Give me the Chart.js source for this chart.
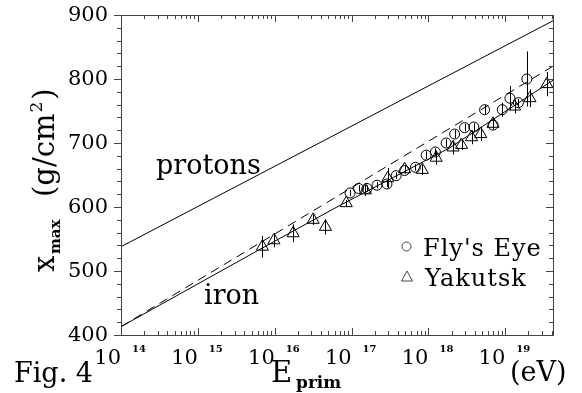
<!DOCTYPE html>
<html>
<head>
<meta charset="utf-8">
<script src="https://cdn.jsdelivr.net/npm/chart.js@4.4.0/dist/chart.umd.min.js"></script>
<style>
html, body { margin: 0; padding: 0; background: #fff; }
</style>
</head>
<body>
<canvas id="xmaxChart" width="582" height="393"></canvas>
<script>
// Fly's Eye (circles): log10(E/eV) and Xmax in g/cm2
var flyLogE = [16.98, 17.09, 17.20, 17.33, 17.46, 17.58, 17.69, 17.83, 17.97, 18.09,
               18.23, 18.34, 18.47, 18.59, 18.73, 18.84, 18.96, 19.06, 19.17, 19.28];
var flyXmax = [622, 629, 629, 634, 636, 649, 657, 662, 681, 686,
               700, 714, 724, 725, 752, 728, 752, 770, 763, 800];
var flyErr  = [5, 5, 5, 5, 5, 5, 5, 5, 6, 6, 6, 6, 6, 6, 8, 6, 11, 19, 6, 43];

// Yakutsk (triangles)
var yakLogE = [15.84, 15.99, 16.24, 16.50, 16.66, 16.93, 17.18, 17.47, 17.69, 17.92,
               18.10, 18.32, 18.43, 18.56, 18.68, 18.84, 19.12, 19.32, 19.54];
var yakXmax = [538, 548, 559, 580, 569, 606, 626, 645, 659, 658,
               677, 693, 697, 709, 714, 730, 757, 770, 792];
var yakErr  = [17, 11, 14, 8, 12, 5, 9, 16, 6, 8, 11, 11, 8, 11, 11, 9, 11, 14, 19];

// model curves
var protonLogE = [14, 19.62];
var protonXmax = [538, 891];
var ironLogE = [14, 15.78, 16.84, 18.27, 19.62];
var ironXmax = [413, 532, 602, 692, 798];
var ironDashLogE = [14, 19.62];
var ironDashXmax = [413, 820];

// axes
var xDecades = [14, 15, 16, 17, 18, 19];
var yLabels = [400, 500, 600, 700, 800, 900];

var SERIF = '"DejaVu Serif", "Liberation Serif", serif';

function toPoints(lx, ly) {
    return lx.map(function (v, i) {
        return { x: Math.pow(10, v), y: ly[i] };
    });
}

var framePlugin = {
    id: 'frame',
    afterDatasetsDraw: function (chart) {
        var ctx = chart.ctx;
        var xs = chart.scales.x, ys = chart.scales.y;
        var a = chart.chartArea;
        ctx.save();
        ctx.strokeStyle = '#000';
        ctx.lineWidth = 1;
        // error bars
        function bars(lx, ly, le) {
            lx.forEach(function (v, i) {
                var px = Math.round(xs.getPixelForValue(Math.pow(10, v))) + 0.5;
                ctx.beginPath();
                ctx.moveTo(px, ys.getPixelForValue(ly[i] - le[i]));
                ctx.lineTo(px, ys.getPixelForValue(ly[i] + le[i]));
                ctx.stroke();
            });
        }
        bars(flyLogE, flyXmax, flyErr);
        bars(yakLogE, yakXmax, yakErr);

        // frame
        ctx.strokeStyle = '#444';
        ctx.strokeRect(Math.round(a.left) + 0.5, Math.round(a.top) + 0.5,
                       Math.round(a.right - a.left), Math.round(a.bottom - a.top));

        // x ticks (bottom pointing up, top pointing down)
        ctx.beginPath();
        xDecades.forEach(function (d) {
            for (var m = 1; m <= 9; m++) {
                var v = m * Math.pow(10, d);
                if (v > xs.max) break;
                var px = Math.round(xs.getPixelForValue(v)) + 0.5;
                var len = m === 1 ? 7 : 4;
                ctx.moveTo(px, a.bottom); ctx.lineTo(px, a.bottom - len);
                ctx.moveTo(px, a.top); ctx.lineTo(px, a.top + len);
            }
        });
        // y ticks
        for (var y = 400; y <= 900; y += 20) {
            var py = Math.round(ys.getPixelForValue(y)) + 0.5;
            var len = y % 100 === 0 ? 7 : 4;
            ctx.moveTo(a.left, py); ctx.lineTo(a.left - len, py);
            ctx.moveTo(a.right, py); ctx.lineTo(a.right - len, py);
        }
        ctx.stroke();

        // tick labels
        ctx.fillStyle = '#000';
        ctx.font = '21px ' + SERIF;
        ctx.textAlign = 'right';
        ctx.textBaseline = 'middle';
        yLabels.forEach(function (v) {
            ctx.fillText(String(v), 108, ys.getPixelForValue(v) + 1);
        });
        ctx.textBaseline = 'alphabetic';
        xDecades.forEach(function (d) {
            var px = xs.getPixelForValue(Math.pow(10, d));
            ctx.font = '21px ' + SERIF;
            ctx.textAlign = 'right';
            ctx.fillText('10', px, 364);
            ctx.font = 'bold 10px ' + SERIF;
            ctx.textAlign = 'left';
            ctx.fillText(String(d), px + 11, 352);
        });

        // axis titles
        ctx.textAlign = 'left';
        ctx.font = '27px ' + SERIF;
        ctx.fillText('Fig. 4', 14, 382);
        ctx.font = '29px ' + SERIF;
        ctx.fillText('E', 271, 382);
        ctx.font = 'bold 17px ' + SERIF;
        ctx.fillText('prim', 296, 388);
        ctx.font = '27px ' + SERIF;
        ctx.fillText('(eV)', 510, 381);

        ctx.save();
        ctx.translate(54, 272);
        ctx.rotate(-Math.PI / 2);
        ctx.font = '29px ' + SERIF;
        ctx.fillText('x', 0, 0);
        ctx.font = 'bold 15px ' + SERIF;
        ctx.fillText('max', 18, 6);
        ctx.font = '29px ' + SERIF;
        ctx.fillText('(g/cm', 75, 0);
        var w = ctx.measureText('(g/cm').width;
        ctx.font = '17px ' + SERIF;
        ctx.fillText('2', 75 + w + 1, -12);
        var w2 = ctx.measureText('2').width;
        ctx.font = '29px ' + SERIF;
        ctx.fillText(')', 75 + w + w2 + 3, 0);
        ctx.restore();

        // curve labels
        ctx.font = '27px ' + SERIF;
        ctx.fillText('protons', 156, 174);
        ctx.fillText('iron', 204, 304);

        // legend
        ctx.font = '24px ' + SERIF;
        ctx.letterSpacing = '1px';
        ctx.fillText("Fly's Eye", 423, 256);
        ctx.fillText('Yakutsk', 425, 286);
        ctx.letterSpacing = '0px';
        ctx.beginPath();
        ctx.arc(406.5, 246.5, 4.5, 0, Math.PI * 2);
        ctx.stroke();
        ctx.beginPath();
        ctx.moveTo(407, 271); ctx.lineTo(401.5, 281); ctx.lineTo(412.5, 281); ctx.closePath();
        ctx.stroke();
        ctx.restore();
    }
};

var ctx = document.getElementById('xmaxChart');
var xmaxChart = new Chart(ctx, {
    type: 'scatter',
    data: {
        datasets: [{
            label: 'protons',
            data: toPoints(protonLogE, protonXmax),
            showLine: true,
            borderColor: '#000',
            borderWidth: 1,
            pointRadius: 0
        }, {
            label: 'iron',
            data: toPoints(ironLogE, ironXmax),
            showLine: true,
            borderColor: '#000',
            borderWidth: 1,
            pointRadius: 0
        }, {
            label: 'iron (dashed)',
            data: toPoints(ironDashLogE, ironDashXmax),
            showLine: true,
            borderColor: '#000',
            borderWidth: 1,
            borderDash: [9, 6],
            pointRadius: 0
        }, {
            label: "Fly's Eye",
            data: toPoints(flyLogE, flyXmax),
            pointStyle: 'circle',
            pointRadius: 5,
            borderColor: '#000',
            borderWidth: 1,
            backgroundColor: 'rgba(0,0,0,0)'
        }, {
            label: 'Yakutsk',
            data: toPoints(yakLogE, yakXmax),
            pointStyle: 'triangle',
            pointRadius: 7,
            borderColor: '#000',
            borderWidth: 1,
            backgroundColor: 'rgba(0,0,0,0)'
        }]
    },
    options: {
        responsive: false,
        animation: false,
        layout: { padding: { left: 121, right: 29, top: 15, bottom: 58 } },
        plugins: { legend: { display: false }, tooltip: { enabled: false } },
        scales: {
            x: { type: 'logarithmic', display: false, min: 1e14, max: Math.pow(10, 19.62) },
            y: { type: 'linear', display: false, min: 400, max: 900 }
        }
    },
    plugins: [framePlugin]
});
</script>
</body>
</html>
